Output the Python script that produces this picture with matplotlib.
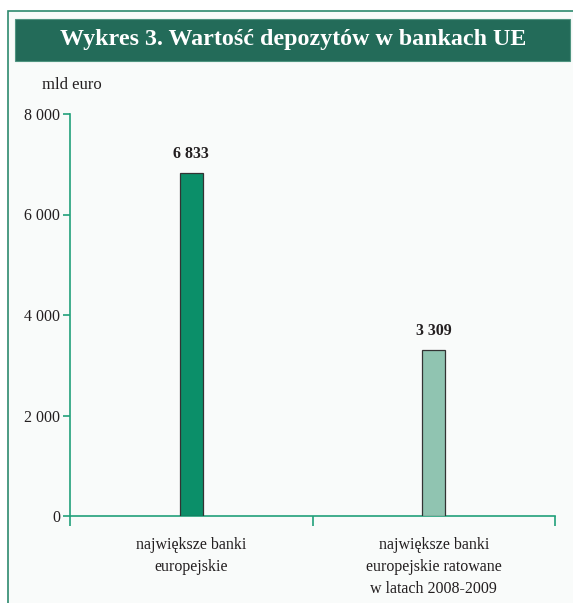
import matplotlib.pyplot as plt
from matplotlib.patches import Rectangle

# dane
kategorie = ['największe banki\neuropejskie',
             'największe banki\neuropejskie ratowane\nw latach 2008-2009']
wartosci = [6833, 3309]
etykiety = ['6 833', '3 309']
kolory = ['#0b8f69', '#90c4b1']
y_ticki = [0, 2000, 4000, 6000, 8000]
y_etykiety = ['0', '2 000', '4 000', '6 000', '8 000']

plt.rcParams['font.family'] = ['Liberation Serif', 'DejaVu Serif']
tekst = '#231f20'
zielony = '#22a07a'

fig = plt.figure(figsize=(5.73, 6.03), dpi=100)
fig.patch.set_facecolor('white')

# ramka i pasek tytułu (w pikselach figury)
W, H = 573, 603
fig.patches.append(Rectangle((8 / W, -0.1), 1, (H - 11) / H + 0.1, transform=fig.transFigure,
                             facecolor='#f9fbfa', edgecolor='#2e8a6e', linewidth=1.2, zorder=-10))
fig.patches.append(Rectangle((15 / W, (H - 61) / H), 555 / W, 42 / H, transform=fig.transFigure,
                             facecolor='#236b59', edgecolor='#4f9480', linewidth=0.8, zorder=-9))
fig.text(293 / W, (H - 40) / H, 'Wykres 3. Wartość depozytów w bankach UE',
         color='white', fontsize=17.3, fontweight='bold', ha='center', va='center')
fig.text(42 / W, (H - 85) / H, 'mld euro', color=tekst, fontsize=12, ha='left', va='center')

ax = fig.add_axes([70 / W, (H - 516) / H, 485 / W, 402 / H])
ax.set_facecolor('none')

x = range(len(wartosci))
ax.bar(x, wartosci, width=0.095, color=kolory, edgecolor='#333333', linewidth=0.9, zorder=3)

# etykiety wartości
for i, (v, e) in enumerate(zip(wartosci, etykiety)):
    ax.text(i, v + 370, e, ha='center', va='center', fontsize=11.5, fontweight='bold', color=tekst)

ax.set_xlim(-0.5, 1.5)
ax.set_ylim(0, 8000)

ax.set_yticks(y_ticki, y_etykiety)
ax.set_xticks([-0.5, 0.5, 1.5], ['', '', ''])
ax.set_xticks([0, 1], kategorie, minor=True)

ax.tick_params(axis='y', direction='out', length=5, width=1.2, color=zielony,
               labelsize=11.5, labelcolor=tekst, pad=2)
ax.tick_params(axis='x', which='major', direction='out', length=7, width=1.2, color=zielony)
ax.tick_params(axis='x', which='minor', length=0, pad=15, labelsize=11.5, labelcolor=tekst)
for lab in ax.get_xticklabels(minor=True):
    lab.set_linespacing(1.5)

for s in ['top', 'right']:
    ax.spines[s].set_visible(False)
for s in ['left', 'bottom']:
    ax.spines[s].set_color(zielony)
    ax.spines[s].set_linewidth(1.2)

plt.savefig('out.png', dpi=100)
